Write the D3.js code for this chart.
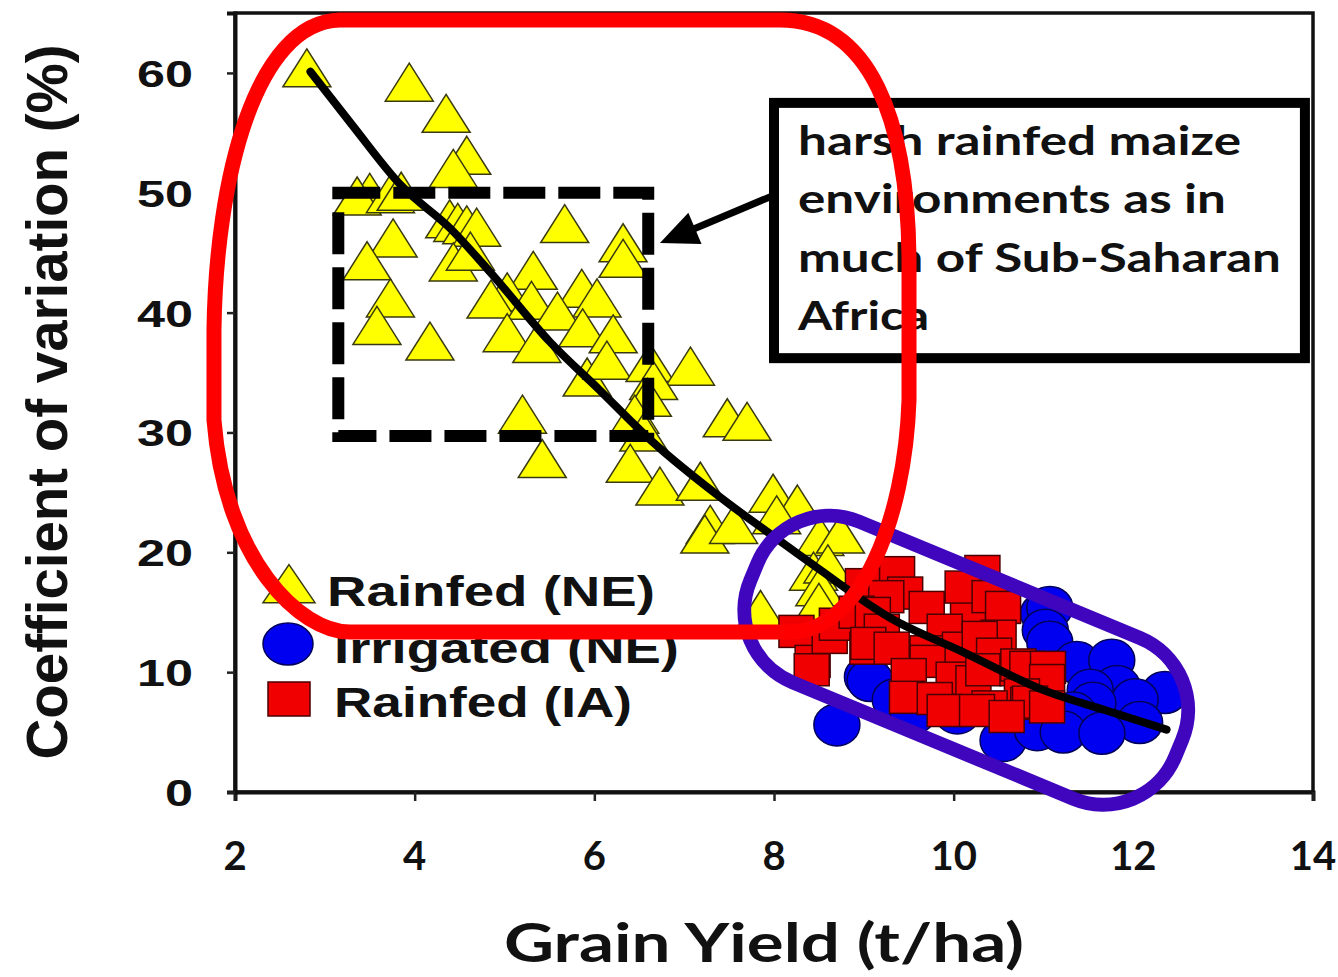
<!DOCTYPE html>
<html>
<head>
<meta charset="utf-8">
<script src="https://cdn.jsdelivr.net/npm/d3@7"></script>
<style>
  html, body { margin: 0; padding: 0; background: #fff; }
  svg { display: block; }
</style>
</head>
<body>
<svg id="chart" width="1338" height="977"></svg>
<script>
// ---- data: grain yield (t/ha) vs coefficient of variation (%) ----
const xTicks = [2, 4, 6, 8, 10, 12, 14];
const yTicks = [0, 10, 20, 30, 40, 50, 60];
const seriesNames = ["Rainfed (NE)", "Irrigated (NE)", "Rainfed (IA)"];

const rainfedNE = [
  [2.80, 59.9], [3.94, 58.7], [4.35, 56.1], [4.58, 52.6], [4.43, 51.5],
  [3.50, 49.5], [3.36, 49.2], [3.73, 49.4], [3.85, 49.6], [4.39, 47.3],
  [4.48, 47.0], [4.58, 46.8], [4.69, 46.6], [3.76, 45.7], [3.47, 43.8],
  [4.43, 43.7], [4.62, 44.6], [5.32, 43.0], [3.73, 40.7], [5.03, 41.2],
  [4.85, 40.6], [5.30, 40.5], [5.67, 46.9], [6.32, 45.3], [6.32, 44.0],
  [5.86, 41.5], [6.03, 40.7], [5.59, 39.6], [5.03, 37.8], [3.58, 38.4],
  [4.17, 37.1], [5.87, 38.2], [6.21, 37.7], [5.36, 36.9], [5.92, 34.1],
  [6.14, 35.5], [6.62, 35.3], [7.07, 35.0], [6.66, 33.8], [6.59, 32.4],
  [6.45, 31.0], [6.55, 29.5], [5.20, 31.0], [7.48, 30.7], [7.70, 30.4],
  [5.42, 27.3], [6.40, 26.9], [6.73, 25.0], [7.18, 25.4], [7.29, 21.8],
  [7.23, 21.0], [7.55, 21.8], [7.99, 24.4], [8.26, 23.5], [8.03, 22.6],
  [8.51, 20.8], [8.74, 21.0], [8.44, 17.9], [8.60, 18.5], [8.51, 16.6],
  [8.50, 15.3], [7.85, 14.7]
];

const irrigatedNE = [
  [8.70, 5.6], [9.04, 9.6], [9.07, 9.3], [9.35, 7.7], [9.55, 6.6],
  [10.04, 6.6], [10.55, 4.3], [10.93, 5.2], [11.00, 14.9], [11.07, 15.4],
  [11.02, 13.5], [11.07, 12.5], [11.37, 10.8], [11.76, 11.0], [11.82, 8.8],
  [11.52, 8.5], [12.35, 8.3], [12.02, 7.7], [11.55, 7.4], [11.33, 6.6],
  [12.07, 5.8], [11.22, 5.0], [11.65, 4.9]
];

const rainfedIA = [
  [8.25, 13.4], [8.43, 10.9], [8.42, 10.2], [8.62, 12.9], [8.70, 14.0],
  [8.99, 17.3], [9.37, 18.3], [9.46, 16.6], [9.25, 16.3], [8.92, 15.0],
  [9.10, 14.9], [9.70, 15.4], [10.16, 15.4], [10.32, 18.4], [10.10, 17.1],
  [10.40, 16.3], [10.55, 15.4], [9.20, 13.5], [9.90, 13.5], [10.50, 13.0],
  [9.04, 12.0], [9.05, 12.4], [9.31, 12.0], [9.71, 11.7], [10.07, 12.0],
  [10.29, 12.9], [10.45, 11.5], [9.71, 10.9], [9.50, 9.8], [10.00, 9.5],
  [10.22, 9.2], [10.33, 10.2], [10.71, 10.2], [10.72, 10.6], [10.82, 10.4],
  [11.05, 10.4], [11.04, 9.3], [9.48, 7.9], [9.79, 7.8], [9.90, 6.8],
  [10.76, 8.1], [10.83, 7.4], [10.85, 7.5], [10.40, 7.1], [10.26, 6.8],
  [10.59, 6.3], [11.04, 7.1]
];

// fitted trend line, sampled along its length
const trendCurve = [
  [2.84, 60.1], [3.30, 55.7], [3.85, 50.6], [4.40, 47.0], [4.85, 43.3],
  [5.50, 37.6], [6.05, 33.6], [6.65, 29.2], [7.40, 24.6], [8.00, 21.3],
  [8.50, 18.6], [9.30, 14.5], [10.10, 11.7], [11.00, 8.5], [11.70, 6.8],
  [12.37, 5.2]
];

// low-yield region outline (axis units): straight runs joined by cubic corners
const harshOutline = [
  ["M", 3.169, 64.41],
  ["L", 8.067, 64.41],
  ["C", 9.069, 64.41, 9.492, 56.07, 9.503, 44.39],
  ["L", 9.503, 32.71],
  ["C", 9.458, 22.69, 8.957, 13.35, 8.178, 13.35],
  ["L", 3.280, 13.35],
  ["C", 2.724, 13.35, 1.889, 19.36, 1.766, 31.04],
  ["L", 1.766, 38.55],
  ["C", 1.788, 51.06, 2.223, 64.25, 3.169, 64.41]
];
const dashedBox = { x0: 3.15, x1: 6.6, y0: 29.7, y1: 50.0 };
const calloutBox = { x0: 8.0, x1: 13.91, y0: 36.2, y1: 57.5 };
const calloutLines = ["harsh rainfed maize", "environments as in", "much of Sub-Saharan", "Africa"];
const calloutWidths = [443, 428, 483, 131];
const arrowFrom = [8.0, 49.8];
const arrowTo = [6.73, 45.8];
const highYieldCenter = [10.14, 11.0];

// ---- layout ----
const svg = d3.select("#chart");
const plotLeft = 235, plotRight = 1313, plotTop = 13, plotBottom = 792;

const x = d3.scaleLinear().domain([2, 14]).range([plotLeft, plotRight]);
const y = d3.scaleLinear().domain([0, 65]).range([plotBottom, plotTop]);

svg.append("rect").attr("width", 1338).attr("height", 977).attr("fill", "#fff");

// frame
svg.append("rect")
  .attr("x", plotLeft).attr("y", plotTop)
  .attr("width", plotRight - plotLeft).attr("height", plotBottom - plotTop)
  .attr("fill", "none").attr("stroke", "#111").attr("stroke-width", 3.5);

// axes
const xAxis = d3.axisBottom(x).tickValues(xTicks).tickSize(9).tickFormat("");
const yAxis = d3.axisLeft(y).tickValues(yTicks).tickSize(8).tickFormat("");
const gx = svg.append("g").attr("transform", `translate(0,${plotBottom})`).call(xAxis);
const gy = svg.append("g").attr("transform", `translate(${plotLeft},0)`).call(yAxis);
[gx, gy].forEach(g => {
  g.select(".domain").attr("stroke", "#111").attr("stroke-width", 4);
  g.selectAll(".tick line").attr("stroke", "#222").attr("stroke-width", 2.5);
});

// tick labels
svg.append("g").selectAll("text").data(xTicks).join("text")
  .attr("x", d => x(d)).attr("y", 870)
  .attr("text-anchor", "middle")
  .attr("font-family", "Lato, 'Open Sans', sans-serif")
  .attr("font-weight", 700).attr("font-size", 40).attr("fill", "#111")
  .text(d => d);

svg.append("g").selectAll("text").data(yTicks).join("text")
  .attr("x", 193).attr("y", d => y(d) + 14)
  .attr("text-anchor", "end")
  .attr("font-family", "'Liberation Sans', Arial, sans-serif")
  .attr("font-weight", 700).attr("font-size", 37).attr("fill", "#111")
  .attr("textLength", d => String(d).length * 28)
  .attr("lengthAdjust", "spacingAndGlyphs")
  .text(d => d);

// axis titles
svg.append("text")
  .attr("x", 764).attr("y", 962)
  .attr("text-anchor", "middle")
  .attr("font-family", "Lato, 'Open Sans', sans-serif")
  .attr("font-weight", 700).attr("font-size", 53).attr("fill", "#111")
  .attr("textLength", 520).attr("lengthAdjust", "spacingAndGlyphs")
  .text("Grain Yield (t/ha)");

svg.append("text")
  .attr("transform", "translate(67,402) rotate(-90)")
  .attr("text-anchor", "middle")
  .attr("font-family", "'Liberation Sans', Arial, sans-serif")
  .attr("font-weight", 700).attr("font-size", 57).attr("fill", "#111")
  .attr("textLength", 715).attr("lengthAdjust", "spacingAndGlyphs")
  .text("Coefficient of variation (%)");

// ---- marker shapes ----
const triW = 48, triH = 38;
const triPath = (w, h) => `M0,${-2 * h / 3}L${w / 2},${h / 3}L${-w / 2},${h / 3}Z`;

const marks = svg.append("g");

marks.append("g").selectAll("path").data(rainfedNE).join("path")
  .attr("transform", d => `translate(${x(d[0])},${y(d[1])})`)
  .attr("d", triPath(triW, triH))
  .attr("fill", "#ffff00").attr("stroke", "#3a3a10").attr("stroke-width", 1.5);

marks.append("g").selectAll("ellipse").data(irrigatedNE).join("ellipse")
  .attr("cx", d => x(d[0])).attr("cy", d => y(d[1]))
  .attr("rx", 23).attr("ry", 21)
  .attr("fill", "#0000f0").attr("stroke", "#00005a").attr("stroke-width", 1.5);

const sqW = 35, sqH = 32;
marks.append("g").selectAll("rect").data(rainfedIA).join("rect")
  .attr("x", d => x(d[0]) - sqW / 2).attr("y", d => y(d[1]) - sqH / 2)
  .attr("width", sqW).attr("height", sqH)
  .attr("fill", "#f00000").attr("stroke", "#4a0000").attr("stroke-width", 1.5);

// trend line
svg.append("path")
  .datum(trendCurve)
  .attr("d", d3.line().x(d => x(d[0])).y(d => y(d[1])).curve(d3.curveMonotoneX))
  .attr("fill", "none").attr("stroke", "#000").attr("stroke-width", 8)
  .attr("stroke-linecap", "round");

// dashed region box
svg.append("rect")
  .attr("x", x(dashedBox.x0)).attr("y", y(dashedBox.y1))
  .attr("width", x(dashedBox.x1) - x(dashedBox.x0))
  .attr("height", y(dashedBox.y0) - y(dashedBox.y1))
  .attr("fill", "none").attr("stroke", "#000").attr("stroke-width", 12)
  .attr("stroke-dasharray", "42 13");

// callout box with text
svg.append("rect")
  .attr("x", x(calloutBox.x0)).attr("y", y(calloutBox.y1))
  .attr("width", x(calloutBox.x1) - x(calloutBox.x0))
  .attr("height", y(calloutBox.y0) - y(calloutBox.y1))
  .attr("fill", "#fff").attr("stroke", "#000").attr("stroke-width", 10);

svg.append("g").selectAll("text").data(calloutLines).join("text")
  .attr("x", x(calloutBox.x0) + 24)
  .attr("y", (d, i) => y(calloutBox.y1) + 52 + i * 58.5)
  .attr("font-family", "Lato, 'Open Sans', sans-serif")
  .attr("font-weight", 700).attr("font-size", 40).attr("fill", "#111")
  .attr("textLength", (d, i) => calloutWidths[i])
  .attr("lengthAdjust", "spacingAndGlyphs")
  .text(d => d);

// arrow from callout to dashed box
{
  const x1 = x(arrowFrom[0]), y1 = y(arrowFrom[1]);
  const x2 = x(arrowTo[0]), y2 = y(arrowTo[1]);
  const len = Math.hypot(x2 - x1, y2 - y1);
  const ux = (x2 - x1) / len, uy = (y2 - y1) / len;
  const headL = 38, headW = 17;
  const bx = x2 - ux * headL, by = y2 - uy * headL;
  svg.append("line")
    .attr("x1", x1).attr("y1", y1).attr("x2", bx + ux * 4).attr("y2", by + uy * 4)
    .attr("stroke", "#000").attr("stroke-width", 7);
  svg.append("path")
    .attr("d", `M${x2},${y2}L${bx - uy * headW},${by + ux * headW}L${bx + uy * headW},${by - ux * headW}Z`)
    .attr("fill", "#000");
}

// legend
const legend = svg.append("g");
const legendRows = [
  { name: seriesNames[0], cy: 590, base: 606, w: 328 },
  { name: seriesNames[1], cy: 644, base: 663, w: 345 },
  { name: seriesNames[2], cy: 699, base: 717, w: 298 }
];
legend.append("path")
  .attr("transform", `translate(289,${legendRows[0].cy})`)
  .attr("d", triPath(52, 38))
  .attr("fill", "#ffff00").attr("stroke", "#3a3a10").attr("stroke-width", 1.5);
legend.append("ellipse")
  .attr("cx", 288).attr("cy", legendRows[1].cy).attr("rx", 25).attr("ry", 21)
  .attr("fill", "#0000f0").attr("stroke", "#00005a").attr("stroke-width", 1.5);
legend.append("rect")
  .attr("x", 268).attr("y", legendRows[2].cy - 17).attr("width", 42).attr("height", 34)
  .attr("fill", "#f00000").attr("stroke", "#4a0000").attr("stroke-width", 1.5);
legend.selectAll("text").data(legendRows).join("text")
  .attr("x", (d, i) => i === 0 ? 327 : 334).attr("y", d => d.base)
  .attr("font-family", "'Liberation Sans', Arial, sans-serif")
  .attr("font-weight", 700).attr("font-size", 42).attr("fill", "#111")
  .attr("textLength", d => d.w).attr("lengthAdjust", "spacingAndGlyphs")
  .text(d => d.name);

// high-yield cluster outline
svg.append("rect")
  .attr("transform", `translate(${x(highYieldCenter[0])},${y(highYieldCenter[1])}) rotate(22.5)`)
  .attr("x", -230).attr("y", -87).attr("width", 460).attr("height", 174)
  .attr("rx", 78).attr("ry", 78)
  .attr("fill", "none").attr("stroke", "#3f06bd").attr("stroke-width", 14);

// low-yield region outline
{
  const p = d3.path();
  harshOutline.forEach(([cmd, ...v]) => {
    if (cmd === "M") p.moveTo(x(v[0]), y(v[1]));
    else if (cmd === "L") p.lineTo(x(v[0]), y(v[1]));
    else p.bezierCurveTo(x(v[0]), y(v[1]), x(v[2]), y(v[3]), x(v[4]), y(v[5]));
  });
  p.closePath();
  svg.append("path")
    .attr("d", p.toString())
    .attr("fill", "none").attr("stroke", "#ff0000").attr("stroke-width", 15)
    .attr("stroke-linejoin", "round");
}
</script>
</body>
</html>
